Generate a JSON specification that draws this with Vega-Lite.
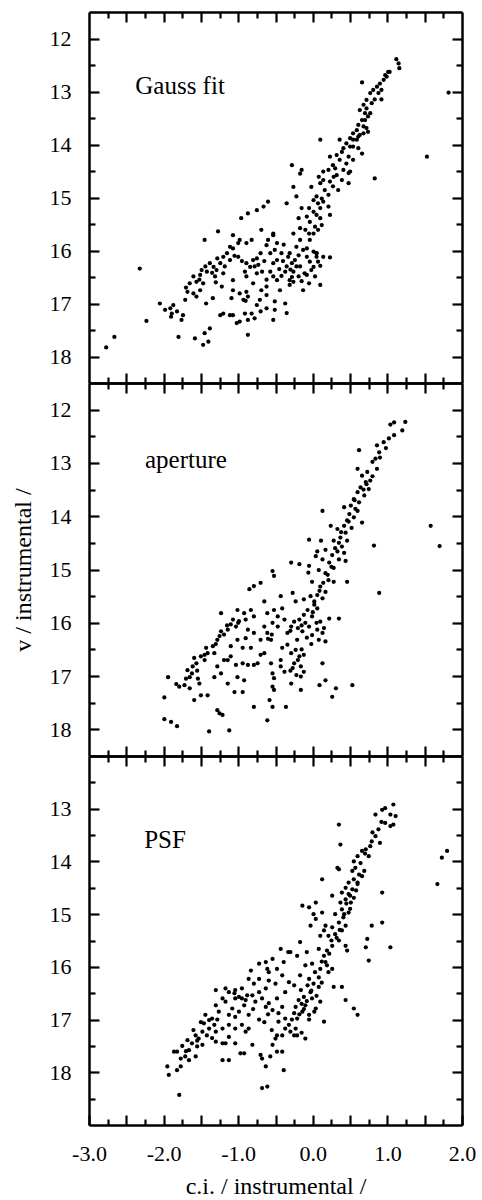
{
"$schema":"https://vega.github.io/schema/vega-lite/v6.json",
"padding":{"left":11,"top":10,"right":0,"bottom":0},
"spacing":0,
"bounds":"flush",
"datasets":{
"labels":[{"p":1,"x":-2.38,"y":13.05,"t":"Gauss fit"},{"p":2,"x":-2.25,"y":13.1,"t":"aperture"},{"p":3,"x":-2.26,"y":13.75,"t":"PSF"}],
"pts":[
{"p":1,"x":-2.77,"y":17.83},{"p":1,"x":-2.66,"y":17.63},{"p":1,"x":-2.32,"y":16.34},{"p":1,"x":-2.23,"y":17.33},{"p":1,"x":-2.05,"y":17.0},{"p":1,"x":-1.91,"y":17.09},{"p":1,"x":-1.87,"y":17.03},{"p":1,"x":-1.82,"y":17.15},{"p":1,"x":-1.89,"y":17.19},{"p":1,"x":-1.76,"y":17.31},{"p":1,"x":-1.74,"y":17.22},{"p":1,"x":-1.8,"y":17.63},{"p":1,"x":-1.71,"y":16.93},{"p":1,"x":-1.6,"y":16.81},{"p":1,"x":-1.56,"y":16.87},{"p":1,"x":-1.51,"y":16.75},{"p":1,"x":-1.58,"y":17.66},{"p":1,"x":-1.47,"y":17.78},{"p":1,"x":-1.4,"y":17.72},{"p":1,"x":-1.38,"y":17.47},{"p":1,"x":-1.45,"y":17.56},{"p":1,"x":-1.65,"y":16.62},{"p":1,"x":-1.6,"y":16.49},{"p":1,"x":-1.51,"y":16.46},{"p":1,"x":-1.47,"y":16.62},{"p":1,"x":-1.56,"y":16.59},{"p":1,"x":-1.49,"y":16.37},{"p":1,"x":-1.42,"y":16.4},{"p":1,"x":-1.38,"y":16.24},{"p":1,"x":-1.33,"y":16.31},{"p":1,"x":-1.29,"y":16.37},{"p":1,"x":-1.31,"y":16.49},{"p":1,"x":-1.24,"y":16.24},{"p":1,"x":-1.2,"y":16.12},{"p":1,"x":-1.15,"y":16.05},{"p":1,"x":-1.11,"y":15.93},{"p":1,"x":-1.07,"y":15.96},{"p":1,"x":-1.0,"y":15.86},{"p":1,"x":-1.11,"y":16.18},{"p":1,"x":-1.2,"y":16.43},{"p":1,"x":-1.22,"y":16.68},{"p":1,"x":-1.45,"y":15.8},{"p":1,"x":-1.27,"y":15.64},{"p":1,"x":-1.07,"y":15.71},{"p":1,"x":-0.98,"y":15.8},{"p":1,"x":-0.89,"y":15.86},{"p":1,"x":-0.82,"y":15.8},{"p":1,"x":-0.96,"y":15.39},{"p":1,"x":-0.87,"y":15.3},{"p":1,"x":-0.75,"y":15.24},{"p":1,"x":-0.66,"y":15.17},{"p":1,"x":-0.6,"y":15.08},{"p":1,"x":-0.69,"y":15.61},{"p":1,"x":-0.62,"y":15.9},{"p":1,"x":-0.53,"y":15.71},{"p":1,"x":-1.0,"y":16.12},{"p":1,"x":-0.89,"y":16.24},{"p":1,"x":-0.8,"y":16.18},{"p":1,"x":-0.84,"y":16.31},{"p":1,"x":-0.75,"y":16.15},{"p":1,"x":-0.73,"y":16.27},{"p":1,"x":-0.89,"y":16.49},{"p":1,"x":-0.75,"y":16.43},{"p":1,"x":-0.8,"y":16.62},{"p":1,"x":-0.91,"y":16.4},{"p":1,"x":-1.07,"y":16.75},{"p":1,"x":-0.98,"y":16.81},{"p":1,"x":-0.89,"y":16.78},{"p":1,"x":-1.07,"y":16.56},{"p":1,"x":-1.09,"y":16.9},{"p":1,"x":-0.87,"y":16.87},{"p":1,"x":-0.93,"y":16.93},{"p":1,"x":-0.69,"y":16.75},{"p":1,"x":-0.62,"y":16.68},{"p":1,"x":-0.62,"y":16.84},{"p":1,"x":-0.71,"y":16.93},{"p":1,"x":-0.75,"y":17.03},{"p":1,"x":-1.24,"y":17.22},{"p":1,"x":-1.2,"y":17.19},{"p":1,"x":-1.11,"y":17.22},{"p":1,"x":-1.07,"y":17.22},{"p":1,"x":-0.98,"y":17.34},{"p":1,"x":-1.02,"y":17.37},{"p":1,"x":-0.91,"y":17.19},{"p":1,"x":-0.82,"y":17.19},{"p":1,"x":-0.87,"y":17.31},{"p":1,"x":-0.78,"y":17.28},{"p":1,"x":-0.87,"y":17.59},{"p":1,"x":-0.53,"y":17.31},{"p":1,"x":-0.62,"y":17.09},{"p":1,"x":-0.51,"y":16.96},{"p":1,"x":-0.51,"y":17.12},{"p":1,"x":-0.37,"y":17.0},{"p":1,"x":-0.35,"y":17.18},{"p":1,"x":-0.48,"y":16.56},{"p":1,"x":-0.57,"y":16.4},{"p":1,"x":-0.53,"y":16.24},{"p":1,"x":-0.48,"y":16.18},{"p":1,"x":-0.57,"y":16.05},{"p":1,"x":-0.53,"y":16.49},{"p":1,"x":-0.44,"y":16.75},{"p":1,"x":-0.31,"y":16.65},{"p":1,"x":-0.26,"y":16.59},{"p":1,"x":-0.13,"y":16.75},{"p":1,"x":-0.19,"y":16.49},{"p":1,"x":-0.08,"y":16.46},{"p":1,"x":0.1,"y":16.65},{"p":1,"x":0.03,"y":16.49},{"p":1,"x":0.01,"y":16.31},{"p":1,"x":0.07,"y":16.21},{"p":1,"x":0.14,"y":16.12},
{"p":1,"x":-1.7,"y":16.7},{"p":1,"x":-1.68,"y":16.78},{"p":1,"x":-1.52,"y":16.55},{"p":1,"x":-1.35,"y":16.42},{"p":1,"x":-1.44,"y":16.3},{"p":1,"x":-1.18,"y":16.3},{"p":1,"x":-1.28,"y":16.15},{"p":1,"x":-1.05,"y":16.1},{"p":1,"x":-0.95,"y":16.2},{"p":1,"x":-0.78,"y":16.3},{"p":1,"x":-0.7,"y":16.05},{"p":1,"x":-0.65,"y":16.2},{"p":1,"x":-0.4,"y":16.2},{"p":1,"x":-0.45,"y":16.35},{"p":1,"x":-0.42,"y":16.48},{"p":1,"x":-0.3,"y":16.36},{"p":1,"x":-0.22,"y":16.3},{"p":1,"x":-0.28,"y":16.5},{"p":1,"x":-0.15,"y":16.58},{"p":1,"x":-0.05,"y":16.62},{"p":1,"x":0.05,"y":16.05},{"p":1,"x":-0.62,"y":16.55},{"p":1,"x":-0.68,"y":16.4},{"p":1,"x":-0.9,"y":16.95},{"p":1,"x":-0.7,"y":17.15},{"p":1,"x":-1.34,"y":16.9},{"p":1,"x":-1.43,"y":17.0},{"p":1,"x":-1.3,"y":16.6},{"p":1,"x":-1.9,"y":17.25},{"p":1,"x":-1.98,"y":17.12},
{"p":1,"x":1.12,"y":12.39},{"p":1,"x":1.15,"y":12.47},{"p":1,"x":1.16,"y":12.56},{"p":1,"x":1.01,"y":12.63},{"p":1,"x":0.97,"y":12.69},{"p":1,"x":0.95,"y":12.78},{"p":1,"x":0.9,"y":12.85},{"p":1,"x":0.86,"y":12.91},{"p":1,"x":0.81,"y":12.97},{"p":1,"x":0.77,"y":13.03},{"p":1,"x":0.66,"y":12.83},{"p":1,"x":0.83,"y":13.15},{"p":1,"x":0.92,"y":13.15},{"p":1,"x":0.72,"y":13.16},{"p":1,"x":0.68,"y":13.25},{"p":1,"x":0.63,"y":13.35},{"p":1,"x":0.7,"y":13.41},{"p":1,"x":0.74,"y":13.47},{"p":1,"x":0.66,"y":13.54},{"p":1,"x":0.61,"y":13.63},{"p":1,"x":0.59,"y":13.73},{"p":1,"x":0.68,"y":13.66},{"p":1,"x":0.72,"y":13.69},{"p":1,"x":0.54,"y":13.79},{"p":1,"x":0.63,"y":13.82},{"p":1,"x":0.5,"y":13.88},{"p":1,"x":0.59,"y":13.91},{"p":1,"x":0.45,"y":13.98},{"p":1,"x":0.36,"y":13.91},{"p":1,"x":0.41,"y":14.07},{"p":1,"x":0.54,"y":14.04},{"p":1,"x":0.66,"y":14.17},{"p":1,"x":0.1,"y":13.91},{"p":1,"x":0.32,"y":14.2},{"p":1,"x":0.23,"y":14.23},{"p":1,"x":0.36,"y":14.29},{"p":1,"x":0.45,"y":14.36},{"p":1,"x":0.27,"y":14.39},{"p":1,"x":0.41,"y":14.48},{"p":1,"x":0.5,"y":14.51},{"p":1,"x":0.14,"y":14.51},{"p":1,"x":0.32,"y":14.58},{"p":1,"x":0.39,"y":14.67},{"p":1,"x":0.48,"y":14.73},{"p":1,"x":0.23,"y":14.7},{"p":1,"x":0.1,"y":14.73},{"p":1,"x":0.27,"y":14.79},{"p":1,"x":0.16,"y":14.86},{"p":1,"x":0.34,"y":14.86},{"p":1,"x":0.21,"y":14.95},{"p":1,"x":0.12,"y":15.02},{"p":1,"x":0.07,"y":15.11},{"p":1,"x":0.1,"y":15.2},{"p":1,"x":0.01,"y":15.27},{"p":1,"x":0.05,"y":15.33},{"p":1,"x":0.1,"y":15.39},{"p":1,"x":-0.08,"y":15.36},{"p":1,"x":-0.04,"y":15.46},{"p":1,"x":0.03,"y":15.55},{"p":1,"x":-0.1,"y":15.61},{"p":1,"x":-0.05,"y":15.68},{"p":1,"x":0.23,"y":15.33},{"p":1,"x":-0.26,"y":14.8},{"p":1,"x":-0.17,"y":14.55},{"p":1,"x":-0.28,"y":14.39},{"p":1,"x":-0.15,"y":14.48},{"p":1,"x":-0.22,"y":14.98},{"p":1,"x":-0.35,"y":15.11},{"p":1,"x":-0.02,"y":14.8},{"p":1,"x":0.83,"y":14.64},{"p":1,"x":1.53,"y":14.23},{"p":1,"x":1.82,"y":13.02},{"p":1,"x":-0.26,"y":15.68},{"p":1,"x":-0.17,"y":15.8},{"p":1,"x":-0.22,"y":15.93},{"p":1,"x":-0.13,"y":15.99},{"p":1,"x":0.01,"y":16.02},{"p":1,"x":0.05,"y":16.12},{"p":1,"x":-0.08,"y":16.12},{"p":1,"x":-0.04,"y":16.21},{"p":1,"x":0.23,"y":16.13},{"p":1,"x":0.1,"y":16.29},{"p":1,"x":-0.02,"y":16.37},{"p":1,"x":-0.11,"y":16.43},{"p":1,"x":-0.17,"y":16.3},{"p":1,"x":-0.28,"y":16.24},{"p":1,"x":-0.35,"y":16.3},{"p":1,"x":-0.26,"y":16.4},{"p":1,"x":-0.31,"y":16.56},{"p":1,"x":-0.37,"y":16.4},{"p":1,"x":-0.33,"y":16.12},{"p":1,"x":-0.42,"y":16.05},{"p":1,"x":-0.48,"y":15.86},{"p":1,"x":-0.39,"y":15.89},{"p":1,"x":-0.51,"y":15.99},{"p":1,"x":-0.6,"y":15.8},{"p":1,"x":-0.53,"y":15.68},
{"p":1,"x":0.01,"y":15.05},{"p":1,"x":0.05,"y":14.98},{"p":1,"x":0.14,"y":14.67},{"p":1,"x":0.08,"y":14.61},{"p":1,"x":0.21,"y":14.48},{"p":1,"x":0.28,"y":14.61},{"p":1,"x":0.3,"y":14.45},{"p":1,"x":0.48,"y":14.54},{"p":1,"x":0.54,"y":14.29},{"p":1,"x":0.48,"y":14.23},{"p":1,"x":0.39,"y":14.14},{"p":1,"x":0.5,"y":14.04},{"p":1,"x":0.61,"y":14.07},{"p":1,"x":0.54,"y":13.91},{"p":1,"x":0.61,"y":13.85},{"p":1,"x":0.68,"y":13.79},{"p":1,"x":0.74,"y":13.76},{"p":1,"x":0.7,"y":13.54},{"p":1,"x":0.77,"y":13.41},{"p":1,"x":0.72,"y":13.32},{"p":1,"x":0.79,"y":13.22},{"p":1,"x":0.88,"y":13.03},{"p":1,"x":0.92,"y":12.97},{"p":1,"x":0.99,"y":12.72},{"p":1,"x":1.03,"y":12.63},{"p":1,"x":-0.04,"y":15.8},{"p":1,"x":0.01,"y":15.68},{"p":1,"x":0.07,"y":15.61},{"p":1,"x":0.12,"y":15.52},{"p":1,"x":-0.17,"y":15.58},{"p":1,"x":-0.19,"y":15.39},{"p":1,"x":-0.15,"y":15.2},{"p":1,"x":-0.05,"y":15.2},{"p":1,"x":0.21,"y":15.17},{"p":1,"x":0.14,"y":15.08},{"p":1,"x":0.05,"y":16.05},{"p":1,"x":-0.08,"y":15.96},{"p":1,"x":-0.19,"y":16.09},{"p":1,"x":-0.31,"y":16.05},{"p":1,"x":-0.24,"y":16.18},
{"p":2,"x":1.24,"y":12.23},{"p":2,"x":1.2,"y":12.39},{"p":2,"x":1.09,"y":12.24},{"p":2,"x":1.04,"y":12.28},{"p":2,"x":1.09,"y":12.48},{"p":2,"x":1.02,"y":12.54},{"p":2,"x":0.95,"y":12.61},{"p":2,"x":0.86,"y":12.67},{"p":2,"x":0.89,"y":12.8},{"p":2,"x":0.84,"y":12.92},{"p":2,"x":0.8,"y":12.98},{"p":2,"x":0.86,"y":13.11},{"p":2,"x":0.62,"y":12.76},{"p":2,"x":0.73,"y":13.17},{"p":2,"x":0.66,"y":13.24},{"p":2,"x":0.6,"y":13.11},{"p":2,"x":0.77,"y":13.33},{"p":2,"x":0.71,"y":13.36},{"p":2,"x":0.64,"y":13.46},{"p":2,"x":0.75,"y":13.49},{"p":2,"x":0.6,"y":13.55},{"p":2,"x":0.69,"y":13.61},{"p":2,"x":0.55,"y":13.68},{"p":2,"x":0.62,"y":13.74},{"p":2,"x":0.51,"y":13.8},{"p":2,"x":0.42,"y":13.83},{"p":2,"x":0.57,"y":13.86},{"p":2,"x":0.49,"y":13.96},{"p":2,"x":0.55,"y":14.02},{"p":2,"x":0.66,"y":14.12},{"p":2,"x":0.13,"y":13.9},{"p":2,"x":0.46,"y":14.08},{"p":2,"x":0.42,"y":14.18},{"p":2,"x":0.24,"y":14.18},{"p":2,"x":0.33,"y":14.24},{"p":2,"x":0.44,"y":14.31},{"p":2,"x":0.37,"y":14.4},{"p":2,"x":0.46,"y":14.46},{"p":2,"x":0.28,"y":14.46},{"p":2,"x":0.11,"y":14.46},{"p":2,"x":-0.05,"y":14.44},{"p":2,"x":0.39,"y":14.57},{"p":2,"x":0.33,"y":14.66},{"p":2,"x":0.42,"y":14.69},{"p":2,"x":0.26,"y":14.73},{"p":2,"x":0.17,"y":14.63},{"p":2,"x":0.06,"y":14.66},{"p":2,"x":0.35,"y":14.81},{"p":2,"x":0.44,"y":14.84},{"p":2,"x":0.22,"y":14.87},{"p":2,"x":0.13,"y":14.81},{"p":2,"x":0.04,"y":14.75},{"p":2,"x":0.28,"y":14.97},{"p":2,"x":0.17,"y":15.07},{"p":2,"x":0.21,"y":15.2},{"p":2,"x":0.28,"y":15.23},{"p":2,"x":0.08,"y":15.01},{"p":2,"x":-0.01,"y":15.23},{"p":2,"x":0.1,"y":15.32},{"p":2,"x":0.17,"y":15.42},{"p":2,"x":0.06,"y":15.48},{"p":2,"x":0.13,"y":15.54},{"p":2,"x":0.46,"y":15.23},{"p":2,"x":-0.05,"y":14.93},{"p":2,"x":-0.29,"y":14.87},{"p":2,"x":-0.18,"y":14.9},{"p":2,"x":-0.06,"y":15.06},{"p":2,"x":0.82,"y":14.55},{"p":2,"x":0.89,"y":15.44},{"p":2,"x":1.58,"y":14.18},{"p":2,"x":1.7,"y":14.56},{"p":2,"x":-0.54,"y":15.03},{"p":2,"x":-0.52,"y":15.12},{"p":2,"x":-0.7,"y":15.25},{"p":2,"x":-0.79,"y":15.31},{"p":2,"x":-0.85,"y":15.37},{"p":2,"x":-0.27,"y":15.44},{"p":2,"x":-0.43,"y":15.5},{"p":2,"x":-0.65,"y":15.6},{"p":2,"x":-0.23,"y":15.6},{"p":2,"x":-0.12,"y":15.56},{"p":2,"x":-0.03,"y":15.5},{"p":2,"x":0.02,"y":15.66},{"p":2,"x":-0.07,"y":15.76},{"p":2,"x":0.06,"y":15.73},{"p":2,"x":-0.12,"y":15.85},{"p":2,"x":-0.18,"y":15.94},{"p":2,"x":-0.01,"y":15.88},{"p":2,"x":0.1,"y":15.98},{"p":2,"x":0.22,"y":15.92},{"p":2,"x":0.35,"y":15.92},{"p":2,"x":0.06,"y":16.13},{"p":2,"x":-0.05,"y":16.07},{"p":2,"x":-0.14,"y":16.16},{"p":2,"x":-0.01,"y":16.23},{"p":2,"x":0.13,"y":16.19},{"p":2,"x":0.17,"y":16.35},{"p":2,"x":-0.21,"y":16.32},{"p":2,"x":-0.34,"y":16.19},{"p":2,"x":-0.29,"y":16.07},{"p":2,"x":-0.38,"y":15.94},{"p":2,"x":-0.47,"y":15.88},{"p":2,"x":-0.54,"y":16.0},{"p":2,"x":-0.47,"y":16.07},{"p":2,"x":-0.61,"y":15.82},{"p":2,"x":-0.52,"y":15.76},{"p":2,"x":-0.41,"y":15.73},{"p":2,"x":-0.65,"y":16.07},{"p":2,"x":-0.61,"y":16.19},{"p":2,"x":-0.7,"y":16.32},{"p":2,"x":-0.56,"y":16.32},{"p":2,"x":-0.41,"y":16.47},{"p":2,"x":-0.34,"y":16.41},{"p":2,"x":-0.29,"y":16.57},{"p":2,"x":-0.23,"y":16.51},{"p":2,"x":-0.18,"y":16.63},{"p":2,"x":-0.25,"y":16.76},{"p":2,"x":-0.16,"y":16.82},{"p":2,"x":-0.27,"y":16.85},{"p":2,"x":-0.16,"y":17.01},{"p":2,"x":-0.12,"y":16.92},{"p":2,"x":0.13,"y":16.76},{"p":2,"x":0.08,"y":16.32},{"p":2,"x":0.17,"y":17.08},{"p":2,"x":0.31,"y":17.23},{"p":2,"x":0.26,"y":17.39},{"p":2,"x":0.53,"y":17.17},{"p":2,"x":0.09,"y":17.17},{"p":2,"x":-0.16,"y":17.26},{"p":2,"x":-0.29,"y":17.14},{"p":2,"x":-0.54,"y":16.95},{"p":2,"x":-0.52,"y":17.04},{"p":2,"x":-0.56,"y":16.76},{"p":2,"x":-0.54,"y":17.2},{"p":2,"x":-0.58,"y":17.45},{"p":2,"x":-0.52,"y":17.26},{"p":2,"x":-0.54,"y":17.58},{"p":2,"x":-0.36,"y":17.58},{"p":2,"x":-0.61,"y":17.83},{"p":2,"x":-0.79,"y":17.58},{"p":2,"x":-1.12,"y":18.02},{"p":2,"x":-1.39,"y":18.04},{"p":2,"x":-1.25,"y":17.7},{"p":2,"x":-1.28,"y":17.64},{"p":2,"x":-1.21,"y":17.73},{"p":2,"x":-1.99,"y":17.81},{"p":2,"x":-1.9,"y":17.86},{"p":2,"x":-1.82,"y":17.94},{"p":2,"x":-1.99,"y":17.4},{"p":2,"x":-1.94,"y":17.02},{"p":2,"x":-1.83,"y":17.15},{"p":2,"x":-1.79,"y":17.2},{"p":2,"x":-1.72,"y":17.17},{"p":2,"x":-1.65,"y":17.23},{"p":2,"x":-1.59,"y":17.45},{"p":2,"x":-1.5,"y":17.36},{"p":2,"x":-1.41,"y":17.36},{"p":2,"x":-1.65,"y":17.02},{"p":2,"x":-1.54,"y":17.05},{"p":2,"x":-1.52,"y":17.14},{"p":2,"x":-1.68,"y":16.89},{"p":2,"x":-1.61,"y":16.82},{"p":2,"x":-1.56,"y":16.76},{"p":2,"x":-1.59,"y":16.66},{"p":2,"x":-1.5,"y":16.63},{"p":2,"x":-1.45,"y":16.7},{"p":2,"x":-1.41,"y":16.57},{"p":2,"x":-1.43,"y":16.47},{"p":2,"x":-1.34,"y":16.44},{"p":2,"x":-1.28,"y":16.32},{"p":2,"x":-1.32,"y":16.57},{"p":2,"x":-1.23,"y":16.16},{"p":2,"x":-1.19,"y":16.22},{"p":2,"x":-1.14,"y":16.13},{"p":2,"x":-1.1,"y":16.03},{"p":2,"x":-1.03,"y":16.07},{"p":2,"x":-1.07,"y":15.94},{"p":2,"x":-0.99,"y":15.97},{"p":2,"x":-1.23,"y":15.82},{"p":2,"x":-1.01,"y":15.76},{"p":2,"x":-0.92,"y":15.82},{"p":2,"x":-0.83,"y":15.76},{"p":2,"x":-0.79,"y":15.88},{"p":2,"x":-0.9,"y":15.94},{"p":2,"x":-0.87,"y":16.13},{"p":2,"x":-0.79,"y":16.19},{"p":2,"x":-0.9,"y":16.29},{"p":2,"x":-1.01,"y":16.32},{"p":2,"x":-0.94,"y":16.47},{"p":2,"x":-0.83,"y":16.47},{"p":2,"x":-1.1,"y":16.44},{"p":2,"x":-1.1,"y":16.63},{"p":2,"x":-1.14,"y":16.7},{"p":2,"x":-1.03,"y":16.79},{"p":2,"x":-0.94,"y":16.76},{"p":2,"x":-0.87,"y":16.79},{"p":2,"x":-0.79,"y":16.79},{"p":2,"x":-0.74,"y":16.76},{"p":2,"x":-1.01,"y":17.02},{"p":2,"x":-0.92,"y":17.08},{"p":2,"x":-1.14,"y":17.14},{"p":2,"x":-1.05,"y":17.3},{"p":2,"x":-0.94,"y":17.3},{"p":2,"x":-1.23,"y":16.95},{"p":2,"x":-1.32,"y":17.02},{"p":2,"x":-1.19,"y":16.7},{"p":2,"x":-1.28,"y":16.82},{"p":2,"x":-0.7,"y":16.6},{"p":2,"x":-0.65,"y":16.57},{"p":2,"x":-0.43,"y":16.7},{"p":2,"x":-0.43,"y":16.82},{"p":2,"x":-0.38,"y":16.92},
{"p":2,"x":0.48,"y":14.1},{"p":2,"x":0.52,"y":14.22},{"p":2,"x":0.38,"y":14.3},{"p":2,"x":0.35,"y":14.5},{"p":2,"x":0.3,"y":14.6},{"p":2,"x":0.25,"y":14.95},{"p":2,"x":0.2,"y":15.1},{"p":2,"x":0.14,"y":15.25},{"p":2,"x":0.09,"y":15.4},{"p":2,"x":0.02,"y":15.6},{"p":2,"x":0.56,"y":13.7},{"p":2,"x":0.6,"y":13.9},{"p":2,"x":0.68,"y":13.5},{"p":2,"x":0.72,"y":13.4},{"p":2,"x":0.8,"y":13.25},{"p":2,"x":0.9,"y":12.9},{"p":2,"x":0.98,"y":12.72},{"p":2,"x":-0.15,"y":16.05},{"p":2,"x":-0.1,"y":16.0},{"p":2,"x":-0.2,"y":16.1},{"p":2,"x":-0.25,"y":15.98},{"p":2,"x":-0.3,"y":16.15},{"p":2,"x":-0.08,"y":16.28},{"p":2,"x":-0.02,"y":16.4},{"p":2,"x":-0.15,"y":16.5},{"p":2,"x":-0.2,"y":16.7},{"p":2,"x":-0.12,"y":16.6},{"p":2,"x":-0.3,"y":16.9},{"p":2,"x":-0.22,"y":16.98},{"p":2,"x":0.0,"y":15.8},{"p":2,"x":0.05,"y":16.0},{"p":2,"x":0.15,"y":16.1},{"p":2,"x":-0.55,"y":16.22},{"p":2,"x":-0.6,"y":16.3},{"p":2,"x":-1.0,"y":16.0},{"p":2,"x":-1.15,"y":16.05},{"p":2,"x":-1.3,"y":16.4},{"p":2,"x":-1.45,"y":16.6},{"p":2,"x":-1.55,"y":16.9},{"p":2,"x":-1.7,"y":17.05},{"p":2,"x":-1.62,"y":16.95},{"p":2,"x":-1.25,"y":16.25},
{"p":3,"x":1.08,"y":12.92},{"p":3,"x":0.97,"y":12.99},{"p":3,"x":0.93,"y":13.02},{"p":3,"x":0.84,"y":13.11},{"p":3,"x":1.04,"y":13.11},{"p":3,"x":1.11,"y":13.14},{"p":3,"x":1.08,"y":13.3},{"p":3,"x":1.04,"y":13.33},{"p":3,"x":0.97,"y":13.27},{"p":3,"x":0.88,"y":13.39},{"p":3,"x":0.84,"y":13.52},{"p":3,"x":0.79,"y":13.62},{"p":3,"x":0.9,"y":13.65},{"p":3,"x":0.77,"y":13.71},{"p":3,"x":0.71,"y":13.77},{"p":3,"x":0.66,"y":13.8},{"p":3,"x":0.35,"y":13.3},{"p":3,"x":0.37,"y":13.68},{"p":3,"x":0.75,"y":13.9},{"p":3,"x":0.6,"y":13.9},{"p":3,"x":0.64,"y":14.03},{"p":3,"x":0.57,"y":14.12},{"p":3,"x":0.53,"y":14.18},{"p":3,"x":0.69,"y":14.18},{"p":3,"x":0.66,"y":14.28},{"p":3,"x":0.55,"y":14.34},{"p":3,"x":0.48,"y":14.4},{"p":3,"x":0.6,"y":14.43},{"p":3,"x":0.44,"y":14.5},{"p":3,"x":0.53,"y":14.53},{"p":3,"x":0.39,"y":14.59},{"p":3,"x":0.48,"y":14.62},{"p":3,"x":0.55,"y":14.69},{"p":3,"x":0.44,"y":14.72},{"p":3,"x":0.33,"y":14.12},{"p":3,"x":0.35,"y":14.15},{"p":3,"x":0.125,"y":14.34},{"p":3,"x":0.26,"y":14.65},{"p":3,"x":0.04,"y":14.78},{"p":3,"x":-0.14,"y":14.84},{"p":3,"x":0.37,"y":14.78},{"p":3,"x":0.51,"y":14.78},{"p":3,"x":0.39,"y":14.91},{"p":3,"x":0.48,"y":14.97},{"p":3,"x":0.3,"y":15.0},{"p":3,"x":0.41,"y":15.06},{"p":3,"x":0.35,"y":15.16},{"p":3,"x":0.44,"y":15.22},{"p":3,"x":0.26,"y":15.25},{"p":3,"x":0.17,"y":15.22},{"p":3,"x":0.39,"y":15.31},{"p":3,"x":0.3,"y":15.38},{"p":3,"x":0.21,"y":15.41},{"p":3,"x":0.1,"y":15.41},{"p":3,"x":0.15,"y":15.31},{"p":3,"x":0.35,"y":15.5},{"p":3,"x":0.26,"y":15.6},{"p":3,"x":0.19,"y":15.69},{"p":3,"x":0.15,"y":15.79},{"p":3,"x":0.08,"y":15.66},{"p":3,"x":0.44,"y":15.6},{"p":3,"x":0.46,"y":15.69},{"p":3,"x":0.04,"y":15.09},{"p":3,"x":0.01,"y":15.0},{"p":3,"x":0.125,"y":14.97},{"p":3,"x":-0.03,"y":15.22},{"p":3,"x":-0.05,"y":14.87},{"p":3,"x":0.79,"y":15.22},{"p":3,"x":0.93,"y":15.16},{"p":3,"x":0.73,"y":15.47},{"p":3,"x":0.71,"y":15.63},{"p":3,"x":1.04,"y":15.63},{"p":3,"x":0.75,"y":15.88},{"p":3,"x":0.93,"y":14.59},{"p":3,"x":1.67,"y":14.43},{"p":3,"x":1.73,"y":13.93},{"p":3,"x":1.8,"y":13.8},{"p":3,"x":0.17,"y":15.91},{"p":3,"x":0.1,"y":16.04},{"p":3,"x":0.19,"y":15.97},{"p":3,"x":-0.01,"y":15.94},{"p":3,"x":-0.1,"y":15.97},{"p":3,"x":0.03,"y":16.1},{"p":3,"x":-0.05,"y":16.23},{"p":3,"x":0.01,"y":16.32},{"p":3,"x":-0.07,"y":16.35},{"p":3,"x":0.08,"y":16.38},{"p":3,"x":-0.16,"y":16.44},{"p":3,"x":-0.03,"y":16.48},{"p":3,"x":-0.12,"y":16.57},{"p":3,"x":-0.01,"y":16.6},{"p":3,"x":-0.1,"y":16.73},{"p":3,"x":-0.19,"y":16.63},{"p":3,"x":-0.23,"y":16.76},{"p":3,"x":-0.14,"y":16.85},{"p":3,"x":-0.25,"y":16.88},{"p":3,"x":-0.05,"y":16.91},{"p":3,"x":-0.21,"y":16.98},{"p":3,"x":0.04,"y":16.79},{"p":3,"x":0.1,"y":16.66},{"p":3,"x":0.15,"y":17.04},{"p":3,"x":0.28,"y":16.38},{"p":3,"x":0.39,"y":16.38},{"p":3,"x":0.44,"y":16.63},{"p":3,"x":0.55,"y":16.79},{"p":3,"x":0.6,"y":16.91},{"p":3,"x":0.26,"y":16.04},{"p":3,"x":0.21,"y":16.1},{"p":3,"x":-0.17,"y":16.16},{"p":3,"x":-0.25,"y":16.35},{"p":3,"x":-0.37,"y":16.48},{"p":3,"x":-0.32,"y":16.29},{"p":3,"x":-0.41,"y":16.16},{"p":3,"x":-0.48,"y":16.04},{"p":3,"x":-0.54,"y":15.85},{"p":3,"x":-0.43,"y":15.66},{"p":3,"x":-0.3,"y":15.72},{"p":3,"x":-0.21,"y":15.79},{"p":3,"x":-0.17,"y":15.53},{"p":3,"x":-0.08,"y":15.72},{"p":3,"x":-0.39,"y":15.91},{"p":3,"x":-0.63,"y":15.91},{"p":3,"x":-0.72,"y":15.94},{"p":3,"x":-0.61,"y":16.04},{"p":3,"x":-0.83,"y":16.07},{"p":3,"x":-0.86,"y":16.23},{"p":3,"x":-0.72,"y":16.23},{"p":3,"x":-0.59,"y":16.26},{"p":3,"x":-0.5,"y":16.32},{"p":3,"x":-0.63,"y":16.41},{"p":3,"x":-0.72,"y":16.48},{"p":3,"x":-0.81,"y":16.54},{"p":3,"x":-0.77,"y":16.66},{"p":3,"x":-0.68,"y":16.6},{"p":3,"x":-0.59,"y":16.69},{"p":3,"x":-0.63,"y":16.76},{"p":3,"x":-0.54,"y":16.82},{"p":3,"x":-0.48,"y":16.6},{"p":3,"x":-0.46,"y":16.88},{"p":3,"x":-0.41,"y":16.76},{"p":3,"x":-0.37,"y":16.98},{"p":3,"x":-0.46,"y":17.04},{"p":3,"x":-0.37,"y":17.17},{"p":3,"x":-0.3,"y":17.23},{"p":3,"x":-0.23,"y":17.17},{"p":3,"x":-0.21,"y":17.3},{"p":3,"x":-0.1,"y":17.36},{"p":3,"x":-0.41,"y":17.3},{"p":3,"x":-0.5,"y":17.36},{"p":3,"x":-0.54,"y":17.48},{"p":3,"x":-0.48,"y":17.61},{"p":3,"x":-0.41,"y":17.61},{"p":3,"x":-0.57,"y":17.7},{"p":3,"x":-0.68,"y":17.74},{"p":3,"x":-0.63,"y":17.89},{"p":3,"x":-0.7,"y":17.67},{"p":3,"x":-0.39,"y":17.96},{"p":3,"x":-0.68,"y":18.3},{"p":3,"x":-0.61,"y":18.27},{"p":3,"x":-0.81,"y":17.48},{"p":3,"x":-0.9,"y":17.23},{"p":3,"x":-0.86,"y":17.17},{"p":3,"x":-0.95,"y":17.1},{"p":3,"x":-1.04,"y":17.17},{"p":3,"x":-1.125,"y":17.1},{"p":3,"x":-1.21,"y":17.17},{"p":3,"x":-0.92,"y":17.64},{"p":3,"x":-0.97,"y":17.64},{"p":3,"x":-1.17,"y":17.45},{"p":3,"x":-1.21,"y":17.77},{"p":3,"x":-1.125,"y":17.77},{"p":3,"x":-1.125,"y":17.33},{"p":3,"x":-1.04,"y":16.95},{"p":3,"x":-0.86,"y":16.91},{"p":3,"x":-0.92,"y":16.73},{"p":3,"x":-0.99,"y":16.85},{"p":3,"x":-1.08,"y":16.79},{"p":3,"x":-1.125,"y":16.91},{"p":3,"x":-1.17,"y":16.66},{"p":3,"x":-1.21,"y":16.6},{"p":3,"x":-1.125,"y":16.48},{"p":3,"x":-1.04,"y":16.44},{"p":3,"x":-0.95,"y":16.41},{"p":3,"x":-0.88,"y":16.54},{"p":3,"x":-0.99,"y":16.57},{"p":3,"x":-0.9,"y":16.63},{"p":3,"x":-1.3,"y":16.73},{"p":3,"x":-1.26,"y":16.85},{"p":3,"x":-1.35,"y":16.98},{"p":3,"x":-1.44,"y":16.91},{"p":3,"x":-1.32,"y":17.1},{"p":3,"x":-1.39,"y":17.17},{"p":3,"x":-1.3,"y":17.23},{"p":3,"x":-1.48,"y":17.23},{"p":3,"x":-1.53,"y":17.36},{"p":3,"x":-1.57,"y":17.3},{"p":3,"x":-1.62,"y":17.45},{"p":3,"x":-1.68,"y":17.39},{"p":3,"x":-1.48,"y":17.48},{"p":3,"x":-1.55,"y":17.51},{"p":3,"x":-1.39,"y":17.01},{"p":3,"x":-1.46,"y":17.07},{"p":3,"x":-1.82,"y":17.61},{"p":3,"x":-1.86,"y":17.61},{"p":3,"x":-1.77,"y":17.74},{"p":3,"x":-1.71,"y":17.7},{"p":3,"x":-1.66,"y":17.77},{"p":3,"x":-1.57,"y":17.7},{"p":3,"x":-1.77,"y":17.89},{"p":3,"x":-1.82,"y":17.96},{"p":3,"x":-1.93,"y":18.05},{"p":3,"x":-1.95,"y":17.89},{"p":3,"x":-1.79,"y":18.43},{"p":3,"x":-1.66,"y":17.58},{"p":3,"x":-1.3,"y":17.42},{"p":3,"x":-1.21,"y":17.45},{"p":3,"x":-1.04,"y":17.45},{"p":3,"x":-1.3,"y":16.44},{"p":3,"x":-1.17,"y":16.41},{"p":3,"x":-1.04,"y":16.6},{"p":3,"x":-0.79,"y":16.32},{"p":3,"x":-0.59,"y":16.1},{"p":3,"x":-0.33,"y":15.72},
{"p":3,"x":0.45,"y":14.8},{"p":3,"x":0.5,"y":14.9},{"p":3,"x":0.42,"y":15.0},{"p":3,"x":0.36,"y":15.3},{"p":3,"x":0.32,"y":15.45},{"p":3,"x":0.25,"y":15.5},{"p":3,"x":0.22,"y":15.75},{"p":3,"x":0.12,"y":15.9},{"p":3,"x":0.08,"y":16.2},{"p":3,"x":-0.02,"y":16.45},{"p":3,"x":-0.08,"y":16.65},{"p":3,"x":-0.15,"y":16.7},{"p":3,"x":-0.18,"y":16.9},{"p":3,"x":-0.28,"y":17.0},{"p":3,"x":-0.32,"y":17.1},{"p":3,"x":-0.25,"y":17.3},{"p":3,"x":-0.15,"y":17.25},{"p":3,"x":-0.12,"y":16.8},{"p":3,"x":-0.05,"y":17.0},{"p":3,"x":0.02,"y":16.85},{"p":3,"x":0.05,"y":16.55},{"p":3,"x":0.12,"y":16.3},{"p":3,"x":-1.6,"y":17.2},{"p":3,"x":-1.55,"y":17.4},{"p":3,"x":-1.42,"y":17.3},{"p":3,"x":-1.35,"y":17.35},{"p":3,"x":-1.28,"y":17.0},{"p":3,"x":-1.5,"y":17.05},{"p":3,"x":-1.75,"y":17.5},{"p":3,"x":-1.7,"y":17.6},{"p":3,"x":-1.05,"y":16.5},{"p":3,"x":-0.95,"y":16.6},{"p":3,"x":-0.6,"y":16.9},{"p":3,"x":-0.65,"y":17.05},{"p":3,"x":-0.72,"y":17.0},{"p":3,"x":-0.8,"y":16.8},{"p":3,"x":-0.55,"y":17.2},{"p":3,"x":-0.48,"y":17.3},{"p":3,"x":0.6,"y":14.4},{"p":3,"x":0.62,"y":14.25},{"p":3,"x":0.55,"y":14.0},{"p":3,"x":0.7,"y":13.85},{"p":3,"x":0.8,"y":13.45},{"p":3,"x":0.92,"y":13.25},{"p":3,"x":0.58,"y":14.55},{"p":3,"x":0.5,"y":14.65}
]},
"vconcat":[
{"width":373,"height":371,
 "layer":[
  {"data":{"name":"pts"},"transform":[{"filter":"datum.p===1"}],"mark":{"type":"circle","size":18,"color":"black","opacity":1},
   "encoding":{"x":{"field":"x","type":"quantitative","scale":{"domain":[-3,2],"nice":false,"zero":false},"axis":{"orient":"bottom","ticks":true,"tickSize":-10,"tickColor":"black","tickWidth":2.2,"domainColor":"black","domainWidth":2.5,"labels":false,"title":null,"values":[-2.5,-2,-1.5,-1,-0.5,0,0.5,1,1.5]}},
    "y":{"field":"y","type":"quantitative","scale":{"domain":[11.5,18.5],"reverse":true,"nice":false,"zero":false},"axis":{"orient":"left","ticks":true,"tickSize":-10,"tickColor":"black","tickWidth":2.2,"domainColor":"black","domainWidth":2.5,"values":[12,13,14,15,16,17,18],"labelPadding":28,"labelFont":"Liberation Serif","labelFontSize":22,"labelColor":"black","title":null}}}},
  {"data":{"name":"labels"},"transform":[{"filter":"datum.p===1"}],"mark":{"type":"text","align":"left","baseline":"alphabetic","font":"Liberation Serif","fontSize":25,"color":"black"},
   "encoding":{"text":{"field":"t"},"x":{"field":"x","type":"quantitative","scale":{"domain":[-3,2],"nice":false,"zero":false},"axis":{"orient":"top","ticks":true,"tickSize":-10,"tickColor":"black","tickWidth":2.2,"domainColor":"black","domainWidth":2.5,"labels":false,"title":null,"values":[-2.5,-2,-1.5,-1,-0.5,0,0.5,1,1.5]}},
    "y":{"field":"y","type":"quantitative","scale":{"domain":[11.5,18.5],"reverse":true,"nice":false,"zero":false},"axis":{"orient":"right","ticks":true,"tickSize":-10,"tickColor":"black","tickWidth":2.2,"domainColor":"black","domainWidth":2.5,"labels":false,"title":null,"values":[12,13,14,15,16,17,18]}}}},
  {"data":{"name":"labels"},"mark":{"type":"text","text":""},
   "encoding":{"x":{"field":"x","type":"quantitative","axis":{"orient":"bottom","ticks":true,"tickSize":-6,"tickColor":"black","tickWidth":2.2,"domain":false,"labels":false,"title":null,"values":[-2.75,-2.25,-1.75,-1.25,-0.75,-0.25,0.25,0.75,1.25,1.75]}},
    "y":{"field":"y","type":"quantitative","axis":{"orient":"left","ticks":true,"tickSize":-6,"tickColor":"black","tickWidth":2.2,"domain":false,"labels":false,"title":null,"values":[12.5,13.5,14.5,15.5,16.5,17.5]}}}},
  {"data":{"name":"labels"},"mark":{"type":"text","text":""},
   "encoding":{"x":{"field":"x","type":"quantitative","axis":{"orient":"top","ticks":true,"tickSize":-6,"tickColor":"black","tickWidth":2.2,"domain":false,"labels":false,"title":null,"values":[-2.75,-2.25,-1.75,-1.25,-0.75,-0.25,0.25,0.75,1.25,1.75]}},
    "y":{"field":"y","type":"quantitative","axis":{"orient":"right","ticks":true,"tickSize":-6,"tickColor":"black","tickWidth":2.2,"domain":false,"labels":false,"title":null,"values":[12.5,13.5,14.5,15.5,16.5,17.5]}}}}
 ],
 "resolve":{"axis":{"x":"independent","y":"independent"}}},
{"width":373,"height":373,
 "layer":[
  {"data":{"name":"pts"},"transform":[{"filter":"datum.p===2"}],"mark":{"type":"circle","size":18,"color":"black","opacity":1},
   "encoding":{"x":{"field":"x","type":"quantitative","scale":{"domain":[-3,2],"nice":false,"zero":false},"axis":{"orient":"bottom","ticks":true,"tickSize":-10,"tickColor":"black","tickWidth":2.2,"domainColor":"black","domainWidth":2.5,"labels":false,"title":null,"values":[-2.5,-2,-1.5,-1,-0.5,0,0.5,1,1.5]}},
    "y":{"field":"y","type":"quantitative","scale":{"domain":[11.5,18.5],"reverse":true,"nice":false,"zero":false},"axis":{"orient":"left","ticks":true,"tickSize":-10,"tickColor":"black","tickWidth":2.2,"domainColor":"black","domainWidth":2.5,"values":[12,13,14,15,16,17,18],"labelPadding":28,"labelFont":"Liberation Serif","labelFontSize":22,"labelColor":"black","title":"v / instrumental /","titleFont":"Liberation Serif","titleFontSize":24,"titleFontWeight":"normal","titleColor":"black","titlePadding":14}}}},
  {"data":{"name":"labels"},"transform":[{"filter":"datum.p===2"}],"mark":{"type":"text","align":"left","baseline":"alphabetic","font":"Liberation Serif","fontSize":25,"color":"black"},
   "encoding":{"text":{"field":"t"},"x":{"field":"x","type":"quantitative","scale":{"domain":[-3,2],"nice":false,"zero":false},"axis":{"orient":"top","ticks":true,"tickSize":-10,"tickColor":"black","tickWidth":2.2,"domainColor":"black","domainWidth":2.5,"labels":false,"title":null,"values":[-2.5,-2,-1.5,-1,-0.5,0,0.5,1,1.5]}},
    "y":{"field":"y","type":"quantitative","scale":{"domain":[11.5,18.5],"reverse":true,"nice":false,"zero":false},"axis":{"orient":"right","ticks":true,"tickSize":-10,"tickColor":"black","tickWidth":2.2,"domainColor":"black","domainWidth":2.5,"labels":false,"title":null,"values":[12,13,14,15,16,17,18]}}}},
  {"data":{"name":"labels"},"mark":{"type":"text","text":""},
   "encoding":{"x":{"field":"x","type":"quantitative","axis":{"orient":"bottom","ticks":true,"tickSize":-6,"tickColor":"black","tickWidth":2.2,"domain":false,"labels":false,"title":null,"values":[-2.75,-2.25,-1.75,-1.25,-0.75,-0.25,0.25,0.75,1.25,1.75]}},
    "y":{"field":"y","type":"quantitative","axis":{"orient":"left","ticks":true,"tickSize":-6,"tickColor":"black","tickWidth":2.2,"domain":false,"labels":false,"title":null,"values":[12.5,13.5,14.5,15.5,16.5,17.5]}}}},
  {"data":{"name":"labels"},"mark":{"type":"text","text":""},
   "encoding":{"x":{"field":"x","type":"quantitative","axis":{"orient":"top","ticks":true,"tickSize":-6,"tickColor":"black","tickWidth":2.2,"domain":false,"labels":false,"title":null,"values":[-2.75,-2.25,-1.75,-1.25,-0.75,-0.25,0.25,0.75,1.25,1.75]}},
    "y":{"field":"y","type":"quantitative","axis":{"orient":"right","ticks":true,"tickSize":-6,"tickColor":"black","tickWidth":2.2,"domain":false,"labels":false,"title":null,"values":[12.5,13.5,14.5,15.5,16.5,17.5]}}}}
 ],
 "resolve":{"axis":{"x":"independent","y":"independent"}}},
{"width":373,"height":369,
 "layer":[
  {"data":{"name":"pts"},"transform":[{"filter":"datum.p===3"}],"mark":{"type":"circle","size":18,"color":"black","opacity":1},
   "encoding":{"x":{"field":"x","type":"quantitative","scale":{"domain":[-3,2],"nice":false,"zero":false},"axis":{"orient":"bottom","ticks":true,"tickSize":-10,"tickColor":"black","tickWidth":2.2,"domainColor":"black","domainWidth":2.5,"values":[-3,-2.5,-2,-1.5,-1,-0.5,0,0.5,1,1.5,2],"labelExpr":"datum.value % 1 !== 0 ? '' : (datum.value < 0 ? '-' + format(-datum.value,'.1f') : format(datum.value,'.1f'))","labelFlush":false,"labelOverlap":false,"labelPadding":28,"labelFont":"Liberation Serif","labelFontSize":22,"labelColor":"black","title":"c.i. / instrumental /","titleFont":"Liberation Serif","titleFontSize":24,"titleFontWeight":"normal","titleColor":"black","titlePadding":10}},
    "y":{"field":"y","type":"quantitative","scale":{"domain":[12,19],"reverse":true,"nice":false,"zero":false},"axis":{"orient":"left","ticks":true,"tickSize":-10,"tickColor":"black","tickWidth":2.2,"domainColor":"black","domainWidth":2.5,"values":[13,14,15,16,17,18],"labelPadding":28,"labelFont":"Liberation Serif","labelFontSize":22,"labelColor":"black","title":null}}}},
  {"data":{"name":"labels"},"transform":[{"filter":"datum.p===3"}],"mark":{"type":"text","align":"left","baseline":"alphabetic","font":"Liberation Serif","fontSize":25,"color":"black"},
   "encoding":{"text":{"field":"t"},"x":{"field":"x","type":"quantitative","scale":{"domain":[-3,2],"nice":false,"zero":false},"axis":{"orient":"top","ticks":true,"tickSize":-10,"tickColor":"black","tickWidth":2.2,"domainColor":"black","domainWidth":2.5,"labels":false,"title":null,"values":[-2.5,-2,-1.5,-1,-0.5,0,0.5,1,1.5]}},
    "y":{"field":"y","type":"quantitative","scale":{"domain":[12,19],"reverse":true,"nice":false,"zero":false},"axis":{"orient":"right","ticks":true,"tickSize":-10,"tickColor":"black","tickWidth":2.2,"domainColor":"black","domainWidth":2.5,"labels":false,"title":null,"values":[13,14,15,16,17,18]}}}},
  {"data":{"name":"labels"},"mark":{"type":"text","text":""},
   "encoding":{"x":{"field":"x","type":"quantitative","axis":{"orient":"bottom","ticks":true,"tickSize":-6,"tickColor":"black","tickWidth":2.2,"domain":false,"labels":false,"title":null,"values":[-2.75,-2.25,-1.75,-1.25,-0.75,-0.25,0.25,0.75,1.25,1.75]}},
    "y":{"field":"y","type":"quantitative","axis":{"orient":"left","ticks":true,"tickSize":-6,"tickColor":"black","tickWidth":2.2,"domain":false,"labels":false,"title":null,"values":[12.5,13.5,14.5,15.5,16.5,17.5,18.5]}}}},
  {"data":{"name":"labels"},"mark":{"type":"text","text":""},
   "encoding":{"x":{"field":"x","type":"quantitative","axis":{"orient":"top","ticks":true,"tickSize":-6,"tickColor":"black","tickWidth":2.2,"domain":false,"labels":false,"title":null,"values":[-2.75,-2.25,-1.75,-1.25,-0.75,-0.25,0.25,0.75,1.25,1.75]}},
    "y":{"field":"y","type":"quantitative","axis":{"orient":"right","ticks":true,"tickSize":-6,"tickColor":"black","tickWidth":2.2,"domain":false,"labels":false,"title":null,"values":[12.5,13.5,14.5,15.5,16.5,17.5,18.5]}}}}
 ],
 "resolve":{"axis":{"x":"independent","y":"independent"}}}
],
"config":{"font":"Liberation Serif","view":{"stroke":null},"axis":{"grid":false,"labelFont":"Liberation Serif","titleFont":"Liberation Serif"}}
}
